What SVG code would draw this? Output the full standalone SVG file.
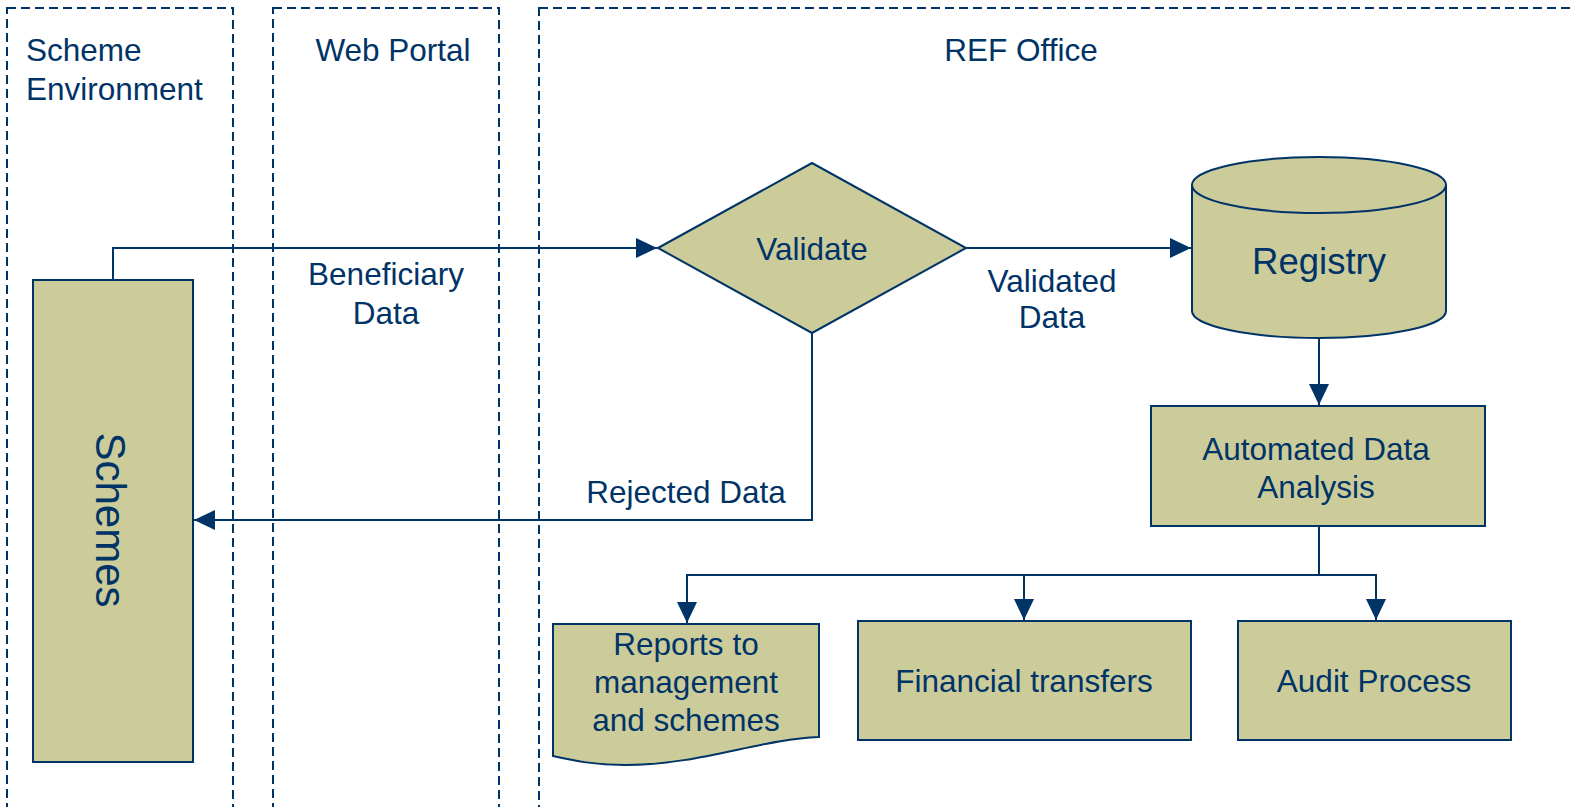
<svg xmlns="http://www.w3.org/2000/svg" width="1572" height="807" viewBox="0 0 1572 807">
<defs>
<style>
.lane{fill:none;stroke:#003366;stroke-width:2;stroke-dasharray:9 5}
.shape{fill:#CCCC9B;stroke:#003366;stroke-width:2}
.conn{fill:none;stroke:#003366;stroke-width:2}
text{font-family:"Liberation Sans",Arial,sans-serif;fill:#003366;font-size:31.5px}
.c{text-anchor:middle}
</style>
<marker id="arr" markerUnits="userSpaceOnUse" markerWidth="22" markerHeight="22" viewBox="0 0 22 22" refX="21" refY="11" orient="auto">
<path d="M0,1 L21,11 L0,21 Z" fill="#003366"/>
</marker>
</defs>
<rect width="1572" height="807" fill="#ffffff"/>
<g id="lanes">
<rect class="lane" x="7" y="8" width="226" height="820"/>
<text x="26" y="61">Scheme</text>
<text x="26" y="100">Environment</text>
<rect class="lane" x="273" y="8" width="226" height="820"/>
<text class="c" x="393" y="61">Web Portal</text>
<rect class="lane" x="539" y="8" width="1060" height="820"/>
<text class="c" x="1021" y="61">REF Office</text>
</g>
<g id="connectors">
<path class="conn" d="M113,280 V248 H657" marker-end="url(#arr)"/>
<path class="conn" d="M966,248 H1191" marker-end="url(#arr)"/>
<path class="conn" d="M812,333 V520 H194" marker-end="url(#arr)"/>
<path class="conn" d="M1319,338 V405" marker-end="url(#arr)"/>
<path class="conn" d="M1319,527 V575 H687 V623" marker-end="url(#arr)"/>
<path class="conn" d="M1319,575 H1024 V620" marker-end="url(#arr)"/>
<path class="conn" d="M1319,575 H1376 V620" marker-end="url(#arr)"/>
<text class="c" x="386" y="285">Beneficiary</text>
<text class="c" x="386" y="324">Data</text>
<text class="c" x="1052" y="292">Validated</text>
<text class="c" x="1052" y="328">Data</text>
<text class="c" x="686" y="503">Rejected Data</text>
</g>
<g id="schemes">
<rect class="shape" x="33" y="280" width="160" height="482"/>
<text class="c" transform="translate(96,520) rotate(90)" style="font-size:42px">Schemes</text>
</g>
<g id="validate">
<polygon class="shape" points="658,248 812,163 966,248 812,333"/>
<text class="c" x="812" y="260">Validate</text>
</g>
<g id="registry">
<path class="shape" d="M1192,185 V311 A127,27 0 0 0 1446,311 V185 A127,28 0 0 0 1192,185 Z"/>
<path class="conn" d="M1192,185 A127,28 0 0 0 1446,185"/>
<text class="c" x="1319" y="274" style="font-size:36.5px">Registry</text>
</g>
<g id="analysis">
<rect class="shape" x="1151" y="406" width="334" height="120"/>
<text class="c" x="1316" y="460">Automated Data</text>
<text class="c" x="1316" y="498">Analysis</text>
</g>
<g id="reports">
<path class="shape" d="M553,624 H819 V737 C760,739 700,765 625,765 C595,765 575,761 553,756 Z"/>
<text class="c" x="686" y="655">Reports to</text>
<text class="c" x="686" y="693">management</text>
<text class="c" x="686" y="731">and schemes</text>
</g>
<g id="financial">
<rect class="shape" x="858" y="621" width="333" height="119"/>
<text class="c" x="1024" y="692">Financial transfers</text>
</g>
<g id="audit">
<rect class="shape" x="1238" y="621" width="273" height="119"/>
<text class="c" x="1374" y="692">Audit Process</text>
</g>
</svg>
